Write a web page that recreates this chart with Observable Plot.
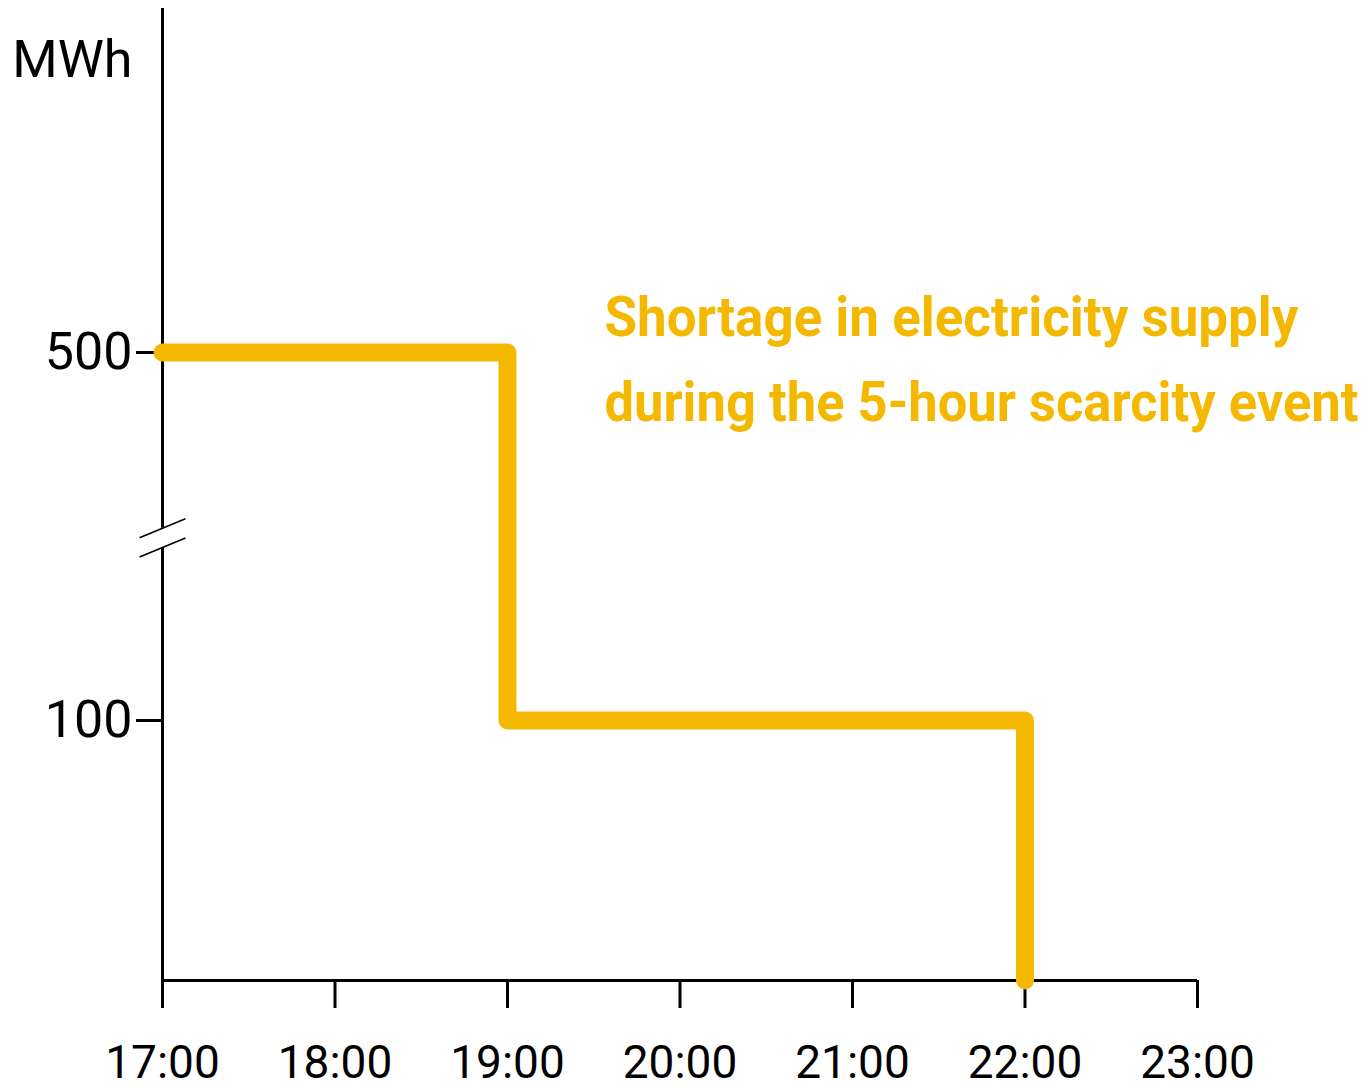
<!DOCTYPE html>
<html>
<head>
<meta charset="utf-8">
<script src="https://cdn.jsdelivr.net/npm/d3@7"></script>
<script src="https://cdn.jsdelivr.net/npm/@observablehq/plot@0.6"></script>
<style>
  html, body { margin: 0; padding: 0; background: #fff; }
  svg { display: block; }
</style>
</head>
<body>
<div id="chart"></div>
<script>
// Data
const hours = [17, 19, 22];
const shortageMWh = [500, 100, 0];
const xTicks = [17, 18, 19, 20, 21, 22, 23];
const yTicks = [100, 500];
const yLabel = "MWh";
const annotationLines = ["Shortage in electricity supply", "during the 5-hour scarcity event"];

const gold = "#F5B800";
const series = hours.map((h, i) => ({hour: h, value: shortageMWh[i]}));

// broken y axis: piecewise-linear transform (0–100 stretched, 100–500 compressed)
const brokenAxis = v => v <= 100 ? v * 2.6
  : v <= 500 ? 260 + (v - 100) * 0.92
  : 628 + (v - 500) * 1.72;
// axis ticks bypass the scale transform, so give them transformed positions and original labels
const yTickPos = yTicks.map(brokenAxis);
const yTickLabel = new Map(yTicks.map(v => [brokenAxis(v), v]));

const breakLow = 288, breakHigh = 309;
const axisTop = 700;
const slashDx = 0.133, slashDy = 10.3;
const axisSegments = [{y1: 0, y2: breakLow}, {y1: breakHigh, y2: axisTop}];
const slashes = [breakLow, breakHigh].map(v => ({x1: 17 - slashDx, x2: 17 + slashDx, y1: v - slashDy, y2: v + slashDy}));

const chart = Plot.plot({
  width: 1371,
  height: 1088,
  marginLeft: 162,
  marginRight: 174,
  marginTop: 8,
  marginBottom: 108,
  style: {fontFamily: "Roboto", color: "#000", background: "#fff", overflow: "visible"},
  x: {domain: [17, 23]},
  y: {transform: brokenAxis},
  marks: [
    Plot.axisX({ticks: xTicks, tickSize: 28, tickPadding: 37, fontSize: 46, strokeWidth: 3,
      tickFormat: d => `${d}:00`, label: null}),
    Plot.axisY({ticks: yTickPos, tickSize: 26, tickPadding: 4, fontSize: 52, strokeWidth: 3,
      tickFormat: d => `${yTickLabel.get(d)}`, label: null}),
    Plot.ruleY([0], {x1: 17, x2: 23, strokeWidth: 3}),
    Plot.ruleX(axisSegments, {x: () => 17, y1: "y1", y2: "y2", strokeWidth: 3}),
    Plot.link(slashes, {x1: "x1", x2: "x2", y1: "y1", y2: "y2", strokeWidth: 1.5, stroke: "#000"}),
    Plot.text([yLabel], {frameAnchor: "top-left", dx: -30, dy: 32, textAnchor: "end", lineAnchor: "top",
      fontSize: 52, fill: "#000"}),
    Plot.line(series, {x: "hour", y: "value", curve: "step-after", stroke: gold, strokeWidth: 18,
      strokeLinecap: "round", strokeLinejoin: "round"}),
    Plot.text([annotationLines[0]], {x: 19.562, y: 520, textAnchor: "start", lineAnchor: "middle",
      fontSize: 55, fontWeight: "bold", fill: gold}),
    Plot.text([annotationLines[1]], {x: 19.562, y: 445, textAnchor: "start", lineAnchor: "middle",
      fontSize: 55, fontWeight: "bold", fill: gold})
  ]
});

// condense annotation to match the narrow typeface
const widths = {[annotationLines[0]]: 694, [annotationLines[1]]: 754};
chart.querySelectorAll("text").forEach(t => {
  const w = widths[t.textContent];
  if (w) { t.setAttribute("textLength", w); t.setAttribute("lengthAdjust", "spacingAndGlyphs"); }
});

document.getElementById("chart").appendChild(chart);
</script>
</body>
</html>
